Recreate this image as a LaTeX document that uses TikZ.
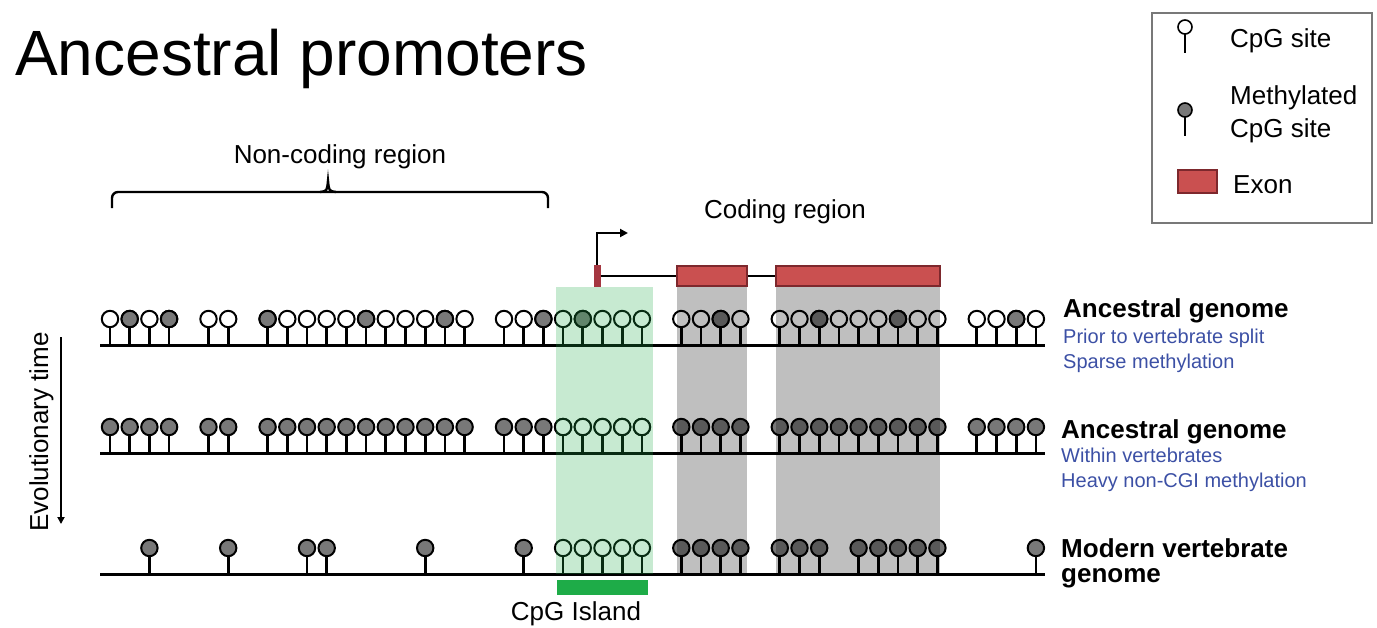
\documentclass[tikz,border=0pt]{standalone}
\usepackage{fontspec}
\setmainfont{Liberation Sans}
\usetikzlibrary{arrows.meta}
\definecolor{methgray}{RGB}{120,120,120}
\definecolor{exonred}{RGB}{202,80,80}
\definecolor{exonedge}{RGB}{125,40,45}
\definecolor{tssred}{RGB}{165,55,65}
\definecolor{islandgreen}{RGB}{30,172,72}
\definecolor{noteblue}{RGB}{60,80,165}
\definecolor{boxgray}{RGB}{120,120,120}
\newcommand{\sitelist}{0,1,2,3,5,6,8,9,10,11,12,13,14,15,16,17,18,20,21,22,23,24,25,26,27,29,30,31,32,34,35,36,37,38,39,40,41,42,44,45,46,47}
\newcommand{\cpgsite}[3]{
    \draw[line width=2.7pt] (110+19.7*#1, #2) -- (110+19.7*#1, #2-18);
    \filldraw[fill=#3, line width=2pt] (110+19.7*#1, #2-26) circle[radius=8.2pt];
}
\newcommand{\legsite}[3]{
    \draw[line width=2pt] (#1, #2+6) -- (#1, #2+26);
    \filldraw[fill=#3, line width=1.6pt] (#1, #2) circle[radius=7pt];
}

\begin{document}
\begin{tikzpicture}[x=1pt, y=-1pt,
    lbl/.style={font=\fontsize{26}{30}\selectfont, inner sep=0},
    rowlbl/.style={font=\fontsize{26}{30}\selectfont\bfseries, inner sep=0, anchor=base west},
    note/.style={font=\fontsize{20}{24}\selectfont, text=noteblue, inner sep=0, anchor=base west},
    exon/.style={draw=exonedge, fill=exonred, line width=1.5pt, inner sep=0, minimum height=20pt}]
    \useasboundingbox (0,0) rectangle (1377,627);

    % Title
    \node[anchor=base west, font=\fontsize{64}{70}\selectfont, inner sep=0] (title) at (15,75) {Ancestral promoters};

    % Draw legend
    \draw[boxgray, line width=1.2pt] (1152,13) rectangle (1372,223);
    \legsite{1185}{27}{white}
    \legsite{1185}{110}{methgray}
    \node[exon, minimum width=39pt, minimum height=23pt] (legexon) at (1197.5,181.5) {};
    \node[lbl, anchor=base west] (legcpg) at (1230,47) {CpG site};
    \node[lbl, anchor=base west] (legmeth) at (1230,104) {Methylated};
    \node[lbl, anchor=base west] (legmeth2) at (1230,137) {CpG site};
    \node[lbl, anchor=base west] (legex) at (1233,193) {Exon};

    % Region labels
    \draw[line width=2.4pt, rounded corners=6pt] (112,208) -- (112,192) -- (548,192) -- (548,208);
    \draw[line width=2.4pt] (320,192) .. controls (327,191) .. (328,181) .. controls (329,191) .. (336,192);
    \node[lbl, anchor=base] (noncoding) at (340,163) {Non-coding region};
    \node[lbl, anchor=base] (coding) at (785,218) {Coding region};

    % Draw gene
    \node[fill=tssred, minimum width=7pt, minimum height=22pt, inner sep=0] (tss) at (597,276) {};
    \node[exon, minimum width=70pt] (exon1) at (712,276) {};
    \node[exon, minimum width=164pt] (exon2) at (858,276) {};
    \draw[line width=1.8pt] (tss.east) -- (exon1.west);
    \draw[line width=1.8pt] (exon1.east) -- (exon2.west);
    \coordinate (tssup) at (597,233);
    \coordinate (tsshead) at (628,233);
    \draw[line width=2.2pt, -{Triangle[length=8pt, width=8pt]}] (tss.north) -- (tssup) -- (tsshead);

    % Draw genomes
    \draw[line width=3pt] (100,345) -- (1045,345);
    \draw[line width=3pt] (100,453) -- (1045,453);
    \draw[line width=3pt] (100,574) -- (1045,574);

    \foreach \k in \sitelist {\cpgsite{\k}{345}{white}}
    \foreach \k in {1,3,8,13,17,22,24,31,36,40,46} {\cpgsite{\k}{345}{methgray}}

    \foreach \k in \sitelist {\cpgsite{\k}{453}{methgray}}
    \foreach \k in {23,...,27} {\cpgsite{\k}{453}{white}}

    \foreach \k in {2,6,10,11,16,21,29,30,31,32,34,35,36,38,39,40,41,42,47} {\cpgsite{\k}{574}{methgray}}
    \foreach \k in {23,...,27} {\cpgsite{\k}{574}{white}}

    % Shaded regions
    \fill[islandgreen, opacity=0.25] (556,287) rectangle (653,574);
    \fill[black, opacity=0.25] (677,287) rectangle (747,574);
    \fill[black, opacity=0.25] (776,287) rectangle (940,574);

    \node[fill=islandgreen, minimum width=91pt, minimum height=15pt, inner sep=0] (island) at (602.5,587.5) {};
    \node[lbl, anchor=base] (islandlbl) at (576,620) {CpG Island};

    % Genome labels
    \node[rowlbl] (anc1) at (1063,317) {Ancestral genome};
    \node[note] (anc1a) at (1063,343) {Prior to vertebrate split};
    \node[note] (anc1b) at (1063,368) {Sparse methylation};
    \node[rowlbl] (anc2) at (1061,438) {Ancestral genome};
    \node[note] (anc2a) at (1061,462) {Within vertebrates};
    \node[note] (anc2b) at (1061,487) {Heavy non-CGI methylation};
    \node[rowlbl] (modern) at (1061,557) {Modern vertebrate};
    \node[rowlbl] (modern2) at (1061,582) {genome};

    % Time axis
    \coordinate (evtop) at (61,337);
    \coordinate (evbot) at (61,524);
    \draw[line width=2pt, -{Triangle[length=7pt, width=7pt]}] (evtop) -- (evbot);
    \node[lbl, rotate=90, anchor=base] (evtime) at (48,432) {Evolutionary time};
\end{tikzpicture}
\end{document}
